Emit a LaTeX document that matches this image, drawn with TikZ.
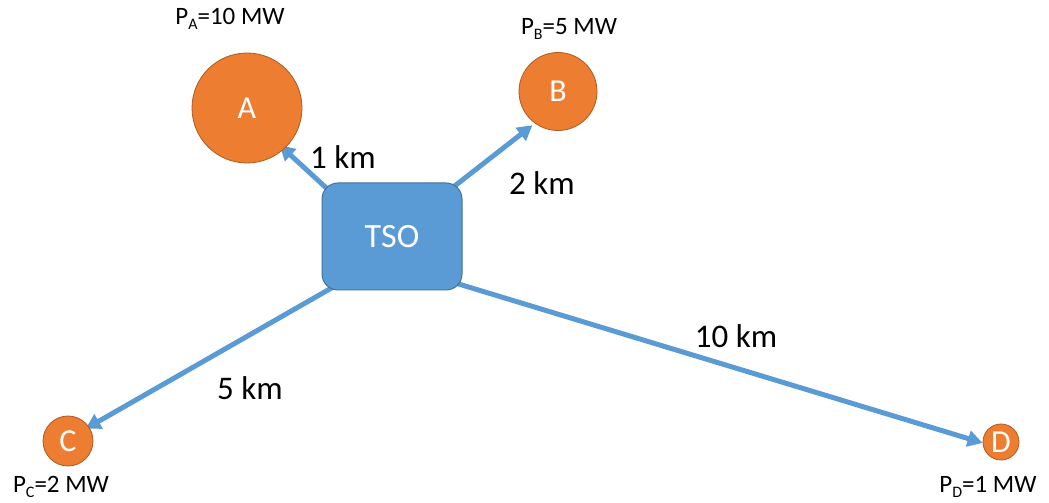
\documentclass[tikz,border=0pt]{standalone}
\usepackage{fontspec}
\setmainfont{Carlito}
\usetikzlibrary{arrows.meta,backgrounds,calc}
\definecolor{orng}{HTML}{ED7D31}
\definecolor{orngb}{HTML}{AE5A21}
\definecolor{blu}{HTML}{5B9BD5}
\definecolor{blub}{HTML}{41719C}
\newcommand{\sbs}[1]{\raisebox{-0.2em}{\fontsize{16}{18}\selectfont #1}}
\tikzset{
  site/.style={circle, fill=orng, draw=orngb, line width=0.8pt, inner sep=0pt, text=white, font=\fontsize{32}{36}\selectfont},
  tso/.style={rectangle, rounded corners=16pt, fill=blu, draw=blub, line width=1pt, text=white, minimum width=140pt, minimum height=107pt, font=\fontsize{34}{38}\selectfont},
  plabel/.style={font=\fontsize{25}{28}\selectfont},
  dist/.style={font=\fontsize{33}{38}\selectfont},
  arr/.style={draw=blu, line width=5pt, -{Triangle[length=15pt,width=16pt]}},
}
\begin{document}
\begin{tikzpicture}[x=1pt,y=1pt]
\useasboundingbox (0,0) rectangle (1049,503);
\node[tso] (T) at (392,266.5) {TSO};
\node[site, minimum size=110pt] (A) at (247,395) {A};
\node[site, minimum size=78pt] (B) at (558,411.5) {B};
\node[site, minimum size=50pt] (C) at (68,62) {C};
\node[site, minimum size=36pt] (D) at (1001,61) {D};
\coordinate (sA) at (334,308);
\coordinate (sB) at (447,311);
\coordinate (sC) at (335,217);
\coordinate (sD) at (452,221);
\begin{scope}[on background layer]
\draw[arr, shorten >=-6pt] (sA) -- (A.-48);
\draw[arr, shorten >=3pt] (sB) -- (B.234);
\draw[arr, shorten >=-4pt] (sC) -- (C.34);
\draw[arr] (sD) -- (D.183);
\end{scope}
\node[plabel] (pA) at (230,484) {P\sbs{A}=10 MW};
\node[plabel] (pB) at (569,474) {P\sbs{B}=5 MW};
\node[plabel] (pC) at (61,16) {P\sbs{C}=2 MW};
\node[plabel] (pD) at (988,16) {P\sbs{D}=1 MW};
\node[dist] (dA) at (343,346) {1 km};
\node[dist] (dB) at (542,320) {2 km};
\node[dist] (dC) at (250,115) {5 km};
\node[dist] (dD) at (736,167) {10 km};
\end{tikzpicture}
\end{document}
